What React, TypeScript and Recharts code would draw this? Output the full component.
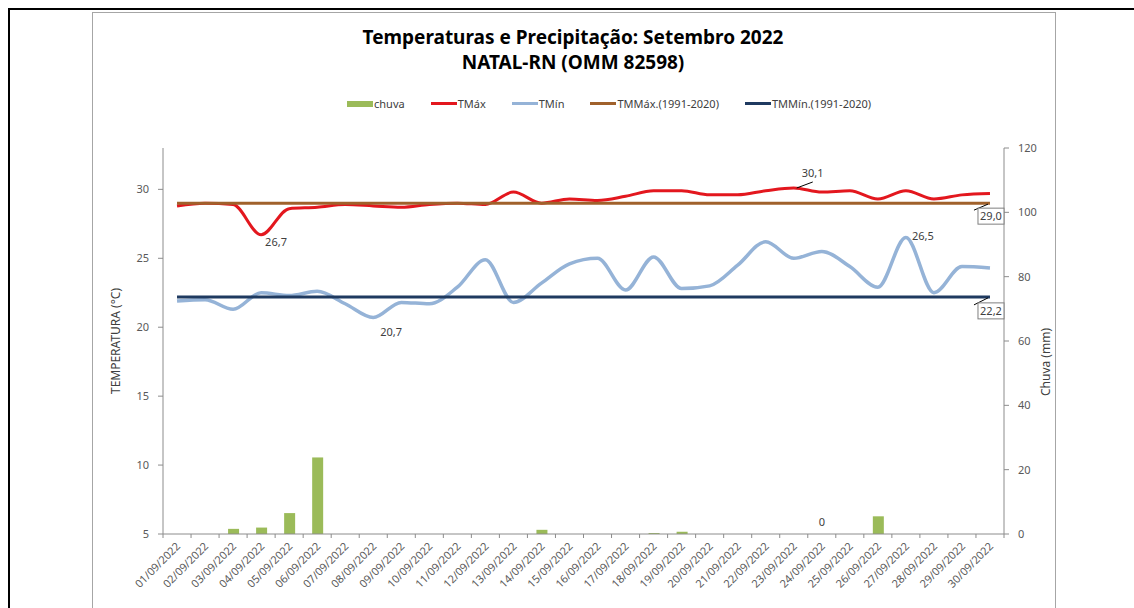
import React from 'react';
import { ComposedChart, Bar, Line, XAxis, YAxis, Label, ReferenceDot } from 'recharts';

const dias = [
  '01/09/2022', '02/09/2022', '03/09/2022', '04/09/2022', '05/09/2022', '06/09/2022',
  '07/09/2022', '08/09/2022', '09/09/2022', '10/09/2022', '11/09/2022', '12/09/2022',
  '13/09/2022', '14/09/2022', '15/09/2022', '16/09/2022', '17/09/2022', '18/09/2022',
  '19/09/2022', '20/09/2022', '21/09/2022', '22/09/2022', '23/09/2022', '24/09/2022',
  '25/09/2022', '26/09/2022', '27/09/2022', '28/09/2022', '29/09/2022', '30/09/2022',
];

// chuva diária (mm)
const chuva = [0, 0, 1.6, 2.0, 6.5, 23.8, 0, 0, 0, 0, 0, 0, 0, 1.3, 0, 0, 0, 0.3, 0.7, 0, 0, 0, 0, 0, 0, 5.5, 0, 0, 0, 0];

// temperaturas (°C)
const tMax = [28.8, 29.0, 28.9, 26.7, 28.6, 28.7, 28.9, 28.8, 28.7, 28.9, 29.0, 28.9, 29.8, 29.0, 29.3, 29.2, 29.5, 29.9, 29.9, 29.6, 29.6, 29.9, 30.1, 29.8, 29.9, 29.3, 29.9, 29.3, 29.6, 29.7];
const tMin = [21.9, 22.0, 21.3, 22.5, 22.3, 22.6, 21.7, 20.7, 21.8, 21.7, 22.9, 24.9, 21.8, 23.2, 24.6, 25.0, 22.7, 25.1, 22.8, 23.0, 24.5, 26.2, 25.0, 25.5, 24.4, 22.9, 26.5, 22.5, 24.4, 24.3];

// normais climatológicas 1991-2020
const tmMax = [29.0, 29.0, 29.0, 29.0, 29.0, 29.0, 29.0, 29.0, 29.0, 29.0, 29.0, 29.0, 29.0, 29.0, 29.0, 29.0, 29.0, 29.0, 29.0, 29.0, 29.0, 29.0, 29.0, 29.0, 29.0, 29.0, 29.0, 29.0, 29.0, 29.0];
const tmMin = [22.2, 22.2, 22.2, 22.2, 22.2, 22.2, 22.2, 22.2, 22.2, 22.2, 22.2, 22.2, 22.2, 22.2, 22.2, 22.2, 22.2, 22.2, 22.2, 22.2, 22.2, 22.2, 22.2, 22.2, 22.2, 22.2, 22.2, 22.2, 22.2, 22.2];

const tempTicks = [5, 10, 15, 20, 25, 30];
const chuvaTicks = [0, 20, 40, 60, 80, 100, 120];

// dia com rótulo de chuva (24/09)
const diaRotuloChuva = 23;

const data = dias.map((dia, i) => ({
  dia,
  chuva: chuva[i],
  tMax: tMax[i],
  tMin: tMin[i],
  tmMax: tmMax[i],
  tmMin: tmMin[i],
}));

const FONTE = '"Noto Sans", "Open Sans", Arial, sans-serif';
const TXT = '#404040';
const EIXO = '#8c8c8c';

const fmt = (v: number) => v.toFixed(1).replace('.', ',');

const DiaTick = (props: any) => {
  const { x, y, payload, index, width, visibleTicksCount } = props;
  const n = visibleTicksCount || 30;
  const passo = (typeof width === 'number' ? width : 841) / n;
  const esq = x - passo / 2;
  return (
    <g>
      <line x1={esq} x2={esq} y1={y - 4} y2={y} stroke={EIXO} />
      {index === n - 1 && <line x1={x + passo / 2} x2={x + passo / 2} y1={y - 4} y2={y} stroke={EIXO} />}
      <text
        x={x + 4}
        y={y + 9}
        textAnchor="end"
        fontSize={11}
        fill="#595959"
        fontFamily={FONTE}
        transform={`rotate(-45, ${x + 4}, ${y + 9})`}
      >
        {payload.value}
      </text>
    </g>
  );
};

const labelTMax = (p: any) => {
  if (p.index === 3) {
    return (
      <text x={p.x + 4} y={p.y + 11} fontSize={11} fill={TXT} fontFamily={FONTE}>
        {fmt(p.value)}
      </text>
    );
  }
  if (p.index === 22) {
    return (
      <g>
        <line x1={p.x + 3} y1={p.y} x2={p.x + 19} y2={p.y - 6} stroke="#000" strokeWidth={1} />
        <text x={p.x + 8} y={p.y - 11} fontSize={11} fill={TXT} fontFamily={FONTE}>
          {fmt(p.value)}
        </text>
      </g>
    );
  }
  return <g />;
};

const labelTMin = (p: any) => {
  if (p.index === 7) {
    return (
      <text x={p.x + 7} y={p.y + 18} fontSize={11} fill={TXT} fontFamily={FONTE}>
        {fmt(p.value)}
      </text>
    );
  }
  if (p.index === 26) {
    return (
      <text x={p.x + 6} y={p.y + 2} fontSize={11} fill={TXT} fontFamily={FONTE}>
        {fmt(p.value)}
      </text>
    );
  }
  return <g />;
};

const caixaFinal = (desce: number) => (p: any) => {
  if (p.index !== data.length - 1) return <g />;
  const bx = p.x - 12;
  const by = p.y + desce;
  return (
    <g>
      <line x1={bx - 4} y1={by + 2} x2={p.x - 2} y2={p.y + 1} stroke="#000" strokeWidth={1} />
      <rect x={bx} y={by} width={26} height={16} fill="#fff" stroke="#7f7f7f" />
      <text x={bx + 13} y={by + 12} textAnchor="middle" fontSize={11} fill={TXT} fontFamily={FONTE}>
        {fmt(p.value)}
      </text>
    </g>
  );
};

const rotuloZero = (p: any) => {
  const vb = p.viewBox;
  const cx = vb.x + (vb.width || 0) / 2;
  return (
    <text x={cx} y={vb.y - 8} textAnchor="middle" fontSize={11} fontFamily={FONTE} style={{ fill: TXT }} stroke="none">
      {String(chuva[diaRotuloChuva])}
    </text>
  );
};

const tituloEsq = (p: any) => {
  const vb = p.viewBox;
  const cx = vb.x - 8;
  const cy = vb.y + vb.height / 2;
  return (
    <text x={cx} y={cy} textAnchor="middle" dominantBaseline="central" fontSize={12} fill={TXT} fontFamily={FONTE} transform={`rotate(-90, ${cx}, ${cy})`}>
      TEMPERATURA (°C)
    </text>
  );
};

const tituloDir = (p: any) => {
  const vb = p.viewBox;
  const cx = vb.x + 41;
  const cy = vb.y + vb.height / 2 + 21;
  return (
    <text x={cx} y={cy} textAnchor="middle" dominantBaseline="central" fontSize={12} fill={TXT} fontFamily={FONTE} transform={`rotate(-90, ${cx}, ${cy})`}>
      Chuva (mm)
    </text>
  );
};

const legenda = [
  { nome: 'chuva', cor: '#9BBB59', tipo: 'barra' },
  { nome: 'TMáx', cor: '#E3171E', tipo: 'linha' },
  { nome: 'TMín', cor: '#95B3D7', tipo: 'linha' },
  { nome: 'TMMáx.(1991-2020)', cor: '#A0612B', tipo: 'linha' },
  { nome: 'TMMín.(1991-2020)', cor: '#1F3A60', tipo: 'linha' },
];

export default function App() {
  return (
    <div style={{ position: 'absolute', left: 0, top: 0, width: 1134, height: 608, background: '#fff', overflow: 'hidden', fontFamily: FONTE }}>
      <div style={{ position: 'absolute', left: 8, top: 8, width: 1126, height: 2, background: '#000' }} />
      <div style={{ position: 'absolute', left: 8, top: 8, width: 2, height: 600, background: '#000' }} />
      <div style={{ position: 'absolute', left: 92, top: 12, width: 962, height: 620, border: '1px solid #a6a6a6' }} />

      <div style={{ position: 'absolute', left: 273, top: 25, width: 600, textAlign: 'center', fontWeight: 700, fontSize: 19, lineHeight: '25px', color: '#000' }}>
        <div>Temperaturas e Precipitação: Setembro 2022</div>
        <div>NATAL-RN (OMM 82598)</div>
      </div>

      <div style={{ position: 'absolute', left: 347, top: 96, display: 'flex', alignItems: 'center', fontSize: 11, color: TXT, whiteSpace: 'nowrap' }}>
        {legenda.map((it) => (
          <div key={it.nome} style={{ display: 'flex', alignItems: 'center', marginRight: 26 }}>
            <div style={{ width: 26, height: it.tipo === 'barra' ? 6 : 3, background: it.cor }} />
            <span style={{ marginLeft: 1 }}>{it.nome}</span>
          </div>
        ))}
      </div>

      <div style={{ position: 'absolute', left: 0, top: 0 }}>
        <ComposedChart width={1134} height={608} data={data} margin={{ top: 148, right: 90, bottom: 4, left: 123 }}>
          <XAxis
            dataKey="dia"
            xAxisId="d"
            height={70}
            interval={0}
            tickSize={4}
            tickMargin={0}
            tickLine={false}
            axisLine={{ stroke: EIXO }}
            tick={<DiaTick />}
          />
          <YAxis
            yAxisId="t"
            orientation="left"
            width={40}
            domain={[5, 33]}
            ticks={tempTicks}
            allowDataOverflow
            tickSize={5}
            tickMargin={9}
            axisLine={{ stroke: EIXO }}
            tickLine={{ stroke: EIXO }}
            tick={{ fontSize: 11, fill: '#595959', fontFamily: FONTE }}
          >
            <Label content={tituloEsq} />
          </YAxis>
          <YAxis
            yAxisId="c"
            orientation="right"
            width={40}
            domain={[0, 120]}
            ticks={chuvaTicks}
            allowDataOverflow
            tickSize={5}
            tickMargin={9}
            axisLine={{ stroke: EIXO }}
            tickLine={{ stroke: EIXO }}
            tick={{ fontSize: 11, fill: '#595959', fontFamily: FONTE }}
          >
            <Label content={tituloDir} />
          </YAxis>
          <Bar dataKey="chuva" xAxisId="d" yAxisId="c" fill="#9BBB59" barSize={11} isAnimationActive={false} />
          <Line dataKey="tMax" xAxisId="d" yAxisId="t" type="monotone" stroke="#E3171E" strokeWidth={3} dot={false} activeDot={false} isAnimationActive={false} label={labelTMax} />
          <Line dataKey="tMin" xAxisId="d" yAxisId="t" type="monotone" stroke="#95B3D7" strokeWidth={3.5} dot={false} activeDot={false} isAnimationActive={false} label={labelTMin} />
          <Line dataKey="tmMax" xAxisId="d" yAxisId="t" type="linear" stroke="#A0612B" strokeWidth={3} dot={false} activeDot={false} isAnimationActive={false} label={caixaFinal(5)} />
          <Line dataKey="tmMin" xAxisId="d" yAxisId="t" type="linear" stroke="#1F3A60" strokeWidth={3} dot={false} activeDot={false} isAnimationActive={false} label={caixaFinal(6)} />
          <ReferenceDot
            x={dias[diaRotuloChuva]}
            y={chuva[diaRotuloChuva]}
            xAxisId="d"
            yAxisId="c"
            r={0.5}
            fill="none"
            stroke="none"
            label={<Label content={rotuloZero} />}
          />
        </ComposedChart>
      </div>
    </div>
  );
}
